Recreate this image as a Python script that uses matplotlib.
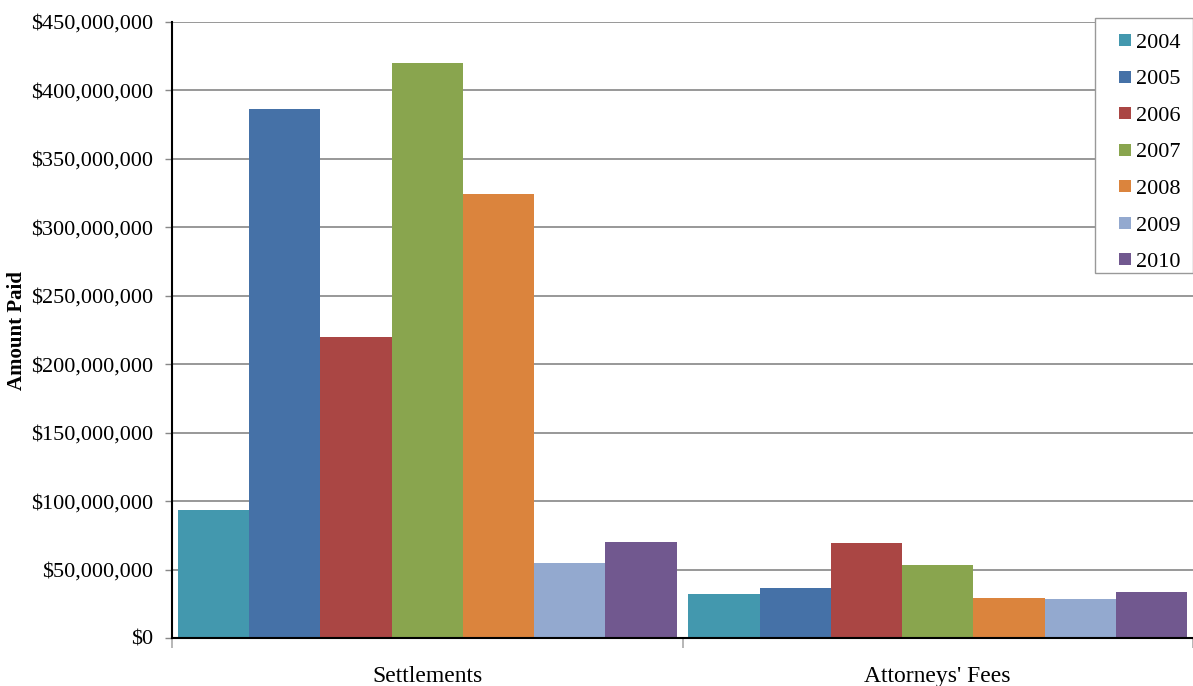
import matplotlib
matplotlib.use("Agg")
import matplotlib.pyplot as plt
import numpy as np
from matplotlib.ticker import FuncFormatter, MultipleLocator
from matplotlib.lines import Line2D
from matplotlib.patches import Rectangle

categories = ["Settlements", "Attorneys' Fees"]
years = ["2004", "2005", "2006", "2007", "2008", "2009", "2010"]
settlements = [93.4e6, 386.1e6, 219.7e6, 420.4e6, 324.1e6, 54.7e6, 70.1e6]
attorneys_fees = [32.3e6, 36.7e6, 69.6e6, 53.5e6, 29.4e6, 28.7e6, 33.8e6]
colors = ["#4398AE", "#4571A7", "#AA4644", "#89A54E", "#DB843D", "#93A9CF", "#71588F"]

plt.rcParams['font.family'] = ['Liberation Serif', 'DejaVu Serif']

W, H = 1193, 686
fig = plt.figure(figsize=(W/100, H/100), dpi=100)
ax = fig.add_axes([172/W, 48/H, 1021/W, 616/H])

x = np.arange(len(categories))
n = len(years)
group = 0.977
w = group / n
for i, yr in enumerate(years):
    vals = [settlements[i], attorneys_fees[i]]
    ax.bar(x - group/2 + w*(i+0.5), vals, width=w, color=colors[i], label=yr, zorder=3)

ax.set_xlim(-0.5, 1.5)
ax.set_ylim(0, 450e6)
ax.yaxis.set_major_locator(MultipleLocator(50e6))
ax.yaxis.set_major_formatter(FuncFormatter(lambda v, p: "${:,.0f}".format(v)))
ax.grid(axis='y', color='#868686', linewidth=1.2, zorder=0)
ax.set_axisbelow(True)

ax.set_xticks(x)
ax.set_xticklabels(categories, fontsize=17)
ax.tick_params(axis='x', length=0, pad=20)
# category separator ticks
ax.set_xticks([-0.5, 0.5, 1.5], minor=True)
ax.tick_params(axis='x', which='minor', length=7, color='#aaaaaa', width=1.2)
ax.tick_params(axis='y', labelsize=16, length=5, color='#888888', width=1, pad=8.5)

for s in ['top', 'right']:
    ax.spines[s].set_visible(False)
ax.spines['left'].set_color('black')
ax.spines['left'].set_linewidth(1.5)
ax.spines['bottom'].set_color('black')
ax.spines['bottom'].set_linewidth(1.5)
ax.spines['bottom'].set_zorder(5)

fig.text(17/W, (H-331)/H, "Amount Paid", fontsize=15, fontweight='bold',
         rotation=90, ha='center', va='center')

# legend frame
frame = Rectangle((1095/W, (H-273)/H), 98/W, 255/H, transform=fig.transFigure,
                  facecolor='white', edgecolor='#999999', linewidth=1, zorder=9, clip_on=False)
ax.add_patch(frame)

handles = [Line2D([], [], marker='s', linestyle='none', markersize=8.6,
                  markerfacecolor=c, markeredgecolor=c, markeredgewidth=0) for c in colors]
leg = ax.legend(handles, years, loc='upper right', bbox_to_anchor=(1.0, 1.0065 - 2/616), fontsize=16,
                frameon=False, handlelength=1.62, handletextpad=-0.3,
                labelspacing=0.72, borderpad=0.55, borderaxespad=0)
leg.set_zorder(10)

fig.savefig("out.png", dpi=100)
